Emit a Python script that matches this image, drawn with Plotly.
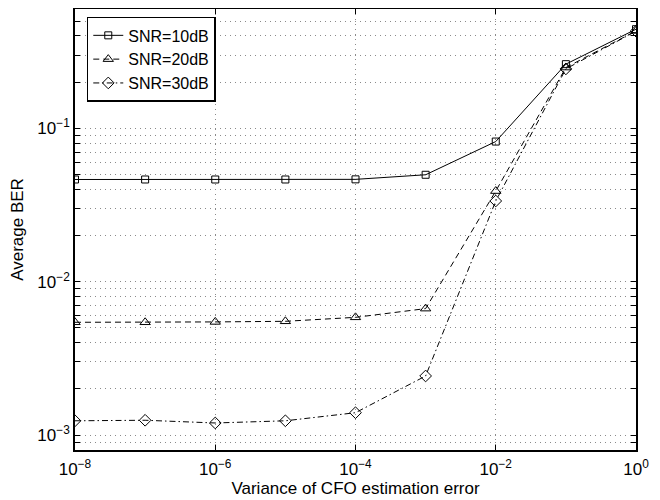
import plotly.graph_objects as go

# ---- data ----
cfo_var = [1e-8, 1e-7, 1e-6, 1e-5, 1e-4, 1e-3, 1e-2, 1e-1, 1e0]
ber_snr10 = [0.0464, 0.0464, 0.0464, 0.0464, 0.0465, 0.0498, 0.082, 0.262, 0.443]
ber_snr20 = [0.00544, 0.00544, 0.00547, 0.00552, 0.00586, 0.00668, 0.039, 0.249, 0.432]
ber_snr30 = [0.00124, 0.00125, 0.00120, 0.00124, 0.00140, 0.00243, 0.0336, 0.244, 0.430]
series_names = ["SNR=10dB", "SNR=20dB", "SNR=30dB"]

x_tick_vals = [1e-8, 1e-6, 1e-4, 1e-2, 1e0]
x_tick_text = ["10<sup>−8</sup>", "10<sup>−6</sup>", "10<sup>−4</sup>", "10<sup>−2</sup>", "10<sup>0</sup>"]

y_decades = [-4, -3, -2, -1]
y_tick_vals = []
y_tick_text = []
for d in y_decades:
    for m in range(1, 10):
        v = m * 10.0 ** d
        if 8e-4 - 1e-12 <= v <= 0.6 + 1e-12:
            y_tick_vals.append(v)
            y_tick_text.append(f"10<sup>−{-d}</sup>" if m == 1 else "")

FONT = "Liberation Sans, Arial, Helvetica, sans-serif"

fig = go.Figure()
styles = [
    (ber_snr10, "solid", "square-open", 7),
    (ber_snr20, "6px,4px", "triangle-up-open", 9),
    (ber_snr30, "6px,3px,1.5px,3px", "diamond-open", 9),
]
for name, (vals, dash, sym, sz) in zip(series_names, styles):
    fig.add_trace(go.Scatter(
        x=cfo_var, y=vals, name=name, mode="lines+markers",
        line=dict(color="black", width=1, dash=dash),
        marker=dict(symbol=sym, size=sz, color="black", line=dict(width=1, color="black")),
    ))

axis_common = dict(
    showline=True, linecolor="black", linewidth=1.5, mirror="ticks",
    ticks="inside", ticklen=5, tickcolor="black", tickwidth=1,
    showgrid=True, gridcolor="#8a8a8a", gridwidth=1, griddash="1px,4px",
    zeroline=False, automargin=False,
    tickfont=dict(family=FONT, size=17, color="black"),
)

fig.update_xaxes(
    type="log", range=[-8, 0], tickmode="array",
    tickvals=x_tick_vals, ticktext=x_tick_text, ticklabelstandoff=3,
    title=dict(text="Variance of CFO estimation error", font=dict(family=FONT, size=17, color="black"), standoff=3),
    **axis_common,
)
fig.update_yaxes(
    type="log", range=[-3.097, -0.222], tickmode="array",
    tickvals=y_tick_vals, ticktext=y_tick_text,
    title=dict(text="Average BER", font=dict(family=FONT, size=17, color="black"), standoff=18),
    **axis_common,
)

# page body has an 8px margin; figure sized to fit the 660x500 window
fig.update_layout(
    template="none",
    width=652, height=492,
    margin=dict(l=67, r=24, t=1, b=50),
    paper_bgcolor="white", plot_bgcolor="white",
    font=dict(family=FONT, size=16, color="black"),
    legend=dict(
        x=0.021, y=0.982, xanchor="left", yanchor="top",
        bgcolor="white", bordercolor="black", borderwidth=1.5,
        font=dict(family=FONT, size=16, color="black"),
        tracegroupgap=0, itemwidth=30,
    ),
    showlegend=True,
)

fig.write_html("out.html")
